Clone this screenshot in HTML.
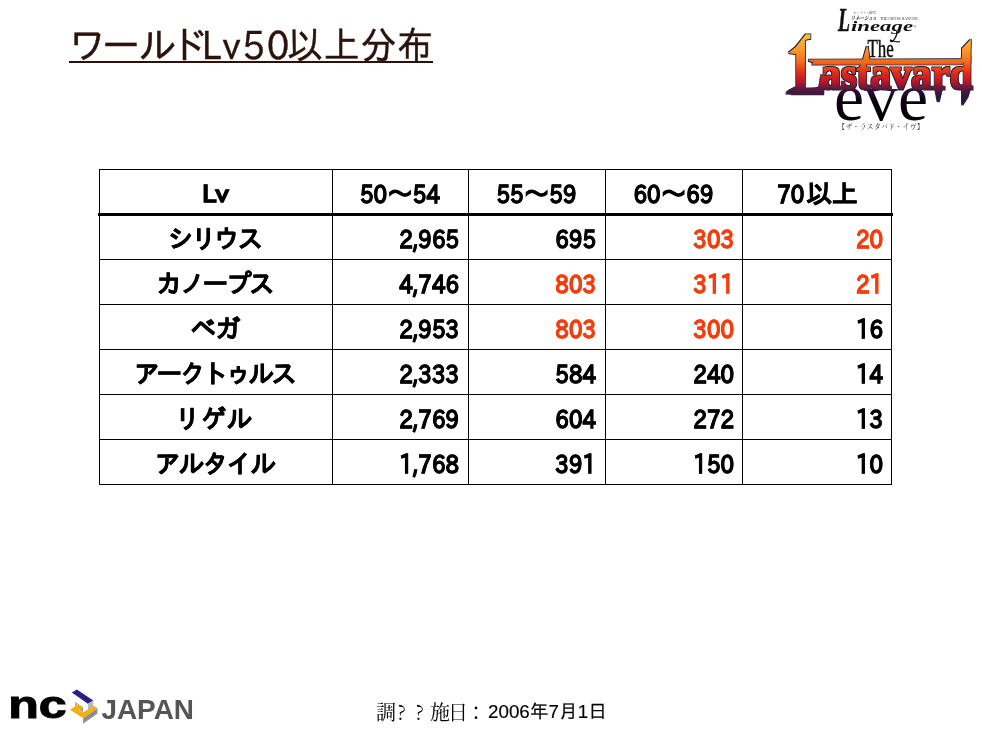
<!DOCTYPE html>
<html lang="ja">
<head>
<meta charset="utf-8">
<title>ワールドLv50以上分布</title>
<style>
html,body{margin:0;padding:0;background:#fff;}
body{width:982px;height:737px;position:relative;overflow:hidden;font-family:"IPAGothic","Liberation Sans","Noto Sans CJK JP",sans-serif;color:#000;}
.title{position:absolute;left:71px;top:24px;font-family:"IPAPGothic","IPAGothic","Liberation Sans","Noto Sans CJK JP",sans-serif;font-size:36px;line-height:40px;color:#2b130b;white-space:nowrap;-webkit-text-stroke:0.4px #2b130b;transform:scaleY(1.07);transform-origin:0 50%;}
.t1{display:inline-block;transform:scaleX(1.056);transform-origin:0 50%;}
.t2{letter-spacing:2px;margin-left:4px;margin-right:-4.5px;}
.t3{letter-spacing:0.7px;}
.title-ul{position:absolute;left:69px;top:61px;width:364px;height:2px;background:#2b130b;}
.r{position:absolute;left:0;width:982px;font-size:25.7px;font-weight:bold;white-space:nowrap;-webkit-text-stroke:0.45px currentColor;}
.c{position:absolute;top:0;height:100%;box-sizing:border-box;text-align:right;padding-right:9px;}
.c0{left:99px;width:233px;text-align:center;padding-right:0;top:2px;}
.c0 em{font-style:normal;display:inline-block;}
.c1{left:332px;width:136px;}
.c2{left:468px;width:137px;}
.c3{left:605px;width:137px;padding-right:8px;}
.c4{left:742px;width:149px;padding-right:8px;}
.h .c{text-align:center;padding-right:0;font-size:25.7px;font-family:"IPAGothic","Liberation Sans","Noto Sans CJK JP",sans-serif;letter-spacing:0;padding-left:0;}
.c1,.c2,.c3,.c4{top:2.5px;transform:scaleY(1.13);-webkit-text-stroke:0.6px currentColor;}
.h .c{top:2px;transform:none;}
.h b{display:inline-block;transform:scaleY(1.13);font-weight:bold;position:relative;top:-1px;}
.h b.lv{font-size:22.3px;transform:scaleX(1.17);-webkit-text-stroke:0.85px currentColor;}
.h b,.c1,.c2,.c3,.c4{font-family:"IPAPGothic","IPAGothic","Liberation Sans","Noto Sans CJK JP",sans-serif;font-size:21.5px;}
.o{color:#f43e0e;}
.vl{position:absolute;top:169px;width:1px;height:316px;background:#000;}
.hl{position:absolute;left:99px;height:1px;width:793px;background:#000;}
.thick{position:absolute;left:98px;top:213px;width:795px;height:3px;background:#000;}
.lg{position:absolute;left:780px;top:0;}
.nc{position:absolute;left:0;top:684px;}
.foot{position:absolute;left:0;top:0;font-size:18px;line-height:20px;white-space:nowrap;}
.f1{position:absolute;left:376px;top:702px;font-size:20px;letter-spacing:-2px;font-family:"Noto Serif CJK JP","Noto Serif CJK SC","Liberation Serif",serif;}
.f1 u{display:inline-block;width:9px;text-align:center;text-decoration:none;}
.f2{position:absolute;left:488px;top:702px;-webkit-text-stroke:0.15px #000;font-size:18.8px;font-family:"Liberation Sans","IPAPGothic","Noto Sans CJK JP",sans-serif;}
</style>
</head>
<body>
<div class="title"><span class="t1">ワールド</span><span class="t2">Lv50</span><span class="t3">以上分布</span></div>
<div class="title-ul"></div>


<svg class="lg" width="202" height="140" viewBox="780 0 202 140">
<defs>
<linearGradient id="g1" gradientUnits="userSpaceOnUse" x1="0" y1="34" x2="0" y2="97">
<stop offset="0" stop-color="#fcc442"/><stop offset="0.3" stop-color="#f79026"/><stop offset="0.45" stop-color="#f2681c"/><stop offset="0.62" stop-color="#de2c1a"/><stop offset="0.75" stop-color="#c01626"/><stop offset="0.88" stop-color="#5a1842"/><stop offset="1" stop-color="#2c1440"/>
</linearGradient>
<linearGradient id="g2" gradientUnits="userSpaceOnUse" x1="0" y1="88" x2="0" y2="121">
<stop offset="0" stop-color="#3a1048"/><stop offset="0.35" stop-color="#0c0410"/><stop offset="1" stop-color="#000"/>
</linearGradient>
<clipPath id="cl"><polygon points="780,140 780,56 789,56 806.6,33.5 812,33.5 812,40 982,40 982,140"/></clipPath>
<filter id="ol" x="-5%" y="-8%" width="110%" height="116%">
<feMorphology in="SourceAlpha" operator="dilate" radius="0.8" result="d"/>
<feFlood flood-color="#2c2434"/><feComposite in2="d" operator="in" result="o"/>
<feMerge><feMergeNode in="o"/><feMergeNode in="SourceGraphic"/></feMerge>
</filter>
</defs>
<g font-family="'Liberation Serif','Noto Serif CJK JP',serif" fill="#111">
<text y="30.6" font-style="italic" font-weight="bold"><tspan x="838" font-size="33" textLength="12" lengthAdjust="spacingAndGlyphs" stroke="#111" stroke-width="0.5">L</tspan><tspan x="851" font-size="14.5" textLength="62" lengthAdjust="spacingAndGlyphs">ineage</tspan></text>
<text x="913.5" y="27.5" font-size="3.5">®</text>
<path d="M896.5 31 C898 35 895 38 893.5 40.5 C892 42.5 890 41.5 890.5 40 C893 41 898 42.5 900 41.5" stroke="#111" stroke-width="1.3" fill="none"/>
<text x="852.8" y="13.8" font-size="3.4" font-style="italic" fill="#333" textLength="23" lengthAdjust="spacingAndGlyphs">オンラインRPG</text>
<text x="850.8" y="19.9" font-size="5.6" font-style="italic" font-weight="bold" fill="#222" textLength="22" lengthAdjust="spacingAndGlyphs">リネージュ</text>
<text x="873.6" y="19.9" font-size="3" font-weight="bold" fill="#333">II</text>
<text x="879.9" y="19.9" font-size="4" fill="#333" textLength="38" lengthAdjust="spacingAndGlyphs">THE CROSS RANCOR</text>
<text x="867.5" y="57" font-size="25.6" textLength="26.3" lengthAdjust="spacingAndGlyphs" stroke="#111" stroke-width="0.5">The</text>
<text x="834" y="119.9" font-size="67" fill="url(#g2)" textLength="94" lengthAdjust="spacingAndGlyphs">eve</text>
<g fill="url(#g1)" stroke="url(#g1)" stroke-width="1.1" stroke-linejoin="miter" font-weight="bold" filter="url(#ol)">
<polygon points="797.5,46.5 790,52.7 797.5,53.6"/>
<polygon points="809,60.2 962,59.8 962,63.8 813,64 814.5,62 "/>
<polygon points="867.3,47 868.8,60 863.6,60"/>
<polygon points="970.2,41 969.8,62 962.6,62 962.6,49"/>
<polygon points="962.6,86 970,86 967,96 962.6,103"/>
<polygon points="935.6,87 941.6,87 938.2,101"/>
<polygon points="796,88 790,91 787.4,93 800,93.4"/>
<text clip-path="url(#cl)"><tspan x="791.5" y="93.2" font-size="89" textLength="34.5" lengthAdjust="spacingAndGlyphs">L</tspan><tspan x="820.5" y="88.6" font-size="47" textLength="152" lengthAdjust="spacingAndGlyphs">astavard</tspan></text>
</g>
<text x="838.5" y="128.9" font-size="6.4" fill="#222" font-family="'Liberation Serif','Noto Serif CJK JP',serif" textLength="85" lengthAdjust="spacing">【ザ・ラスタバド・イヴ】</text>
</g>
</svg>

<svg class="nc" width="200" height="46" viewBox="0 684 200 46">
<polygon points="71.8,692.4 76.8,689.4 93.3,700.4 87.9,703.7" fill="#2a2083"/>
<polygon points="87.9,703.7 93.3,700.4 93.3,706.9 87.9,710" fill="#b9b9c2"/>
<polygon points="75,701.8 77.6,703.6 77.6,704.6 75,706.3" fill="#b0b0b8"/>
<polygon points="70,709.7 78.3,704 83.1,707 78.9,709.7 83.1,712.4 93.9,705.8 97.4,708.2 83.1,718.3" fill="#f5b011"/>
<polygon points="79.2,709.6 83.1,707 83.1,712.3" fill="#9a9aa2"/>
<polygon points="83.1,718.3 97.4,708.2 97.4,713.4 83.1,723.8" fill="#8d8d96"/>
<text x="8.2" y="718.1" font-family="'Liberation Sans','DejaVu Sans',sans-serif" font-weight="bold" font-size="38" fill="#000" stroke="#000" stroke-width="1" stroke-linejoin="miter" textLength="58.5" lengthAdjust="spacingAndGlyphs">nc</text>
<text x="101.4" y="718.7" font-family="'Liberation Sans',sans-serif" font-weight="bold" font-size="27.6" fill="#555" textLength="92.6" lengthAdjust="spacingAndGlyphs">JAPAN</text>
</svg>

<!--TABLE-->
<div class="r h" style="top:169px;height:45px;line-height:45px"><span class="c c0"><b class="lv">Lv</b></span><span class="c c1"><b>50</b>～<b>54</b></span><span class="c c2"><b>55</b>～<b>59</b></span><span class="c c3"><b>60</b>～<b>69</b></span><span class="c c4" style="padding-left:2px"><b style="margin-right:2px">70</b>以上</span></div>
<div class="r" style="top:214px;height:45px;line-height:45px"><span class="c c0"><em style="letter-spacing:-2.5px;margin-right:2.5px">シリウス</em></span><span class="c c1">2,965</span><span class="c c2">695</span><span class="c c3 o">303</span><span class="c c4 o">20</span></div>
<div class="r" style="top:259px;height:45px;line-height:45px"><span class="c c0"><em style="letter-spacing:-2.45px;margin-right:2.45px">カノープス</em></span><span class="c c1">4,746</span><span class="c c2 o">803</span><span class="c c3 o">311</span><span class="c c4 o">21</span></div>
<div class="r" style="top:304px;height:45px;line-height:45px"><span class="c c0"><em style="letter-spacing:-1.2px;margin-right:1.2px">ベガ</em></span><span class="c c1">2,953</span><span class="c c2 o">803</span><span class="c c3 o">300</span><span class="c c4">16</span></div>
<div class="r" style="top:349px;height:45px;line-height:45px"><span class="c c0"><em style="letter-spacing:-2.8px;margin-right:2.8px">アークトゥルス</em></span><span class="c c1">2,333</span><span class="c c2">584</span><span class="c c3">240</span><span class="c c4">14</span></div>
<div class="r" style="top:394px;height:45px;line-height:45px"><span class="c c0"><em style="letter-spacing:0.3px;margin-right:-0.3px;position:relative;left:-2px">リゲル</em></span><span class="c c1">2,769</span><span class="c c2">604</span><span class="c c3">272</span><span class="c c4">13</span></div>
<div class="r" style="top:439px;height:45px;line-height:45px"><span class="c c0"><em style="letter-spacing:-1.7px;margin-right:1.7px">アルタイル</em></span><span class="c c1">1,768</span><span class="c c2">391</span><span class="c c3">150</span><span class="c c4">10</span></div>
<div class="vl" style="left:99px"></div>
<div class="vl" style="left:332px"></div>
<div class="vl" style="left:468px"></div>
<div class="vl" style="left:605px"></div>
<div class="vl" style="left:742px"></div>
<div class="vl" style="left:891px"></div>
<div class="hl" style="top:169px"></div>
<div class="hl" style="top:259px"></div>
<div class="hl" style="top:304px"></div>
<div class="hl" style="top:349px"></div>
<div class="hl" style="top:394px"></div>
<div class="hl" style="top:439px"></div>
<div class="hl" style="top:484px"></div>
<div class="thick"></div>
<!--/TABLE-->

<div class="foot"><span class="f1">調<u style="margin-left:2px">?</u><u> </u><u>?</u><u style="width:7px"> </u>施日：</span><span class="f2">2006年7月1日</span></div>
</body>
</html>
